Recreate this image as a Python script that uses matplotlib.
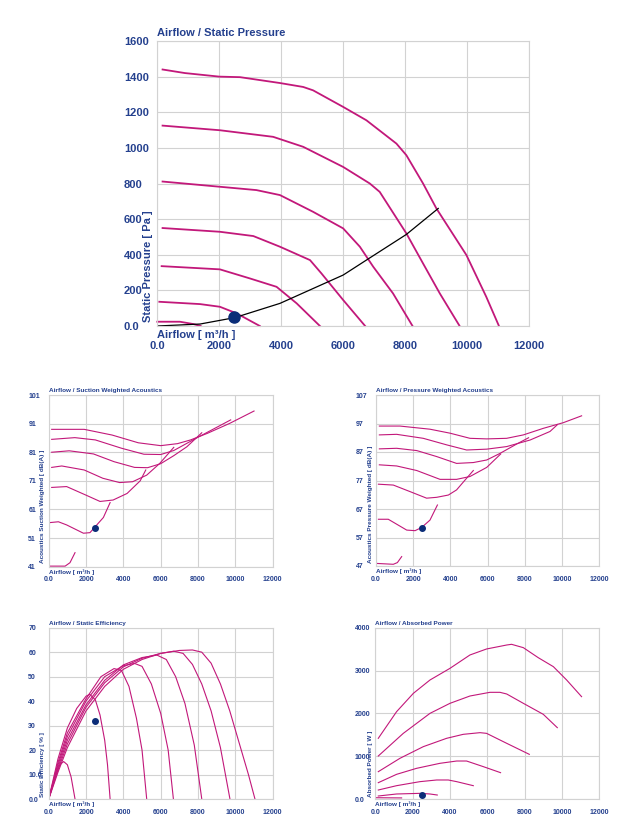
import matplotlib
matplotlib.use("Agg")
import matplotlib.pyplot as plt

plt.rcParams['font.family'] = ['Liberation Sans', 'DejaVu Sans']

BLUE = "#24408e"
LINE = "#c2187a"
GRID = "#d2d2d2"
DOT = "#0b2d78"

airflow_ticks = [0, 2000, 4000, 6000, 8000, 10000, 12000]
airflow_labels = ["0.0", "2000", "4000", "6000", "8000", "10000", "12000"]

# static pressure curves (m3/h, Pa)
pres_x = [
    [170, 890, 2000, 2670, 3960, 4710, 5030, 6000, 6750, 7720, 8040, 8580, 9010, 9980, 10620, 11030],
    [170, 2020, 3740, 4710, 6000, 6860, 7180, 8040, 8580, 9120, 9760],
    [170, 3200, 3960, 5030, 6000, 6540, 6970, 7610, 8240],
    [170, 2020, 3100, 3960, 4930, 5300, 6000, 6710],
    [140, 2020, 2990, 3850, 4500, 5250],
    [65, 1380, 2020, 2560, 3310],
    [0, 730, 1160, 1400],
]
pres_y = [
    [1440, 1420, 1400, 1397, 1364, 1342, 1323, 1230, 1155, 1024, 959, 800, 660, 398, 164, 0],
    [1125, 1099, 1062, 1006, 893, 800, 753, 520, 351, 183, 0],
    [811, 763, 735, 641, 548, 445, 333, 183, 0],
    [550, 529, 505, 445, 370, 295, 146, 0],
    [336, 318, 267, 220, 127, 0],
    [136, 123, 108, 71, 0],
    [24, 24, 11, 0],
]
system_x = [0, 1380, 2500, 3960, 6000, 6750, 8040, 9070]
system_y = [0, 11, 47, 127, 286, 370, 514, 660]
pres_ticks = [0, 200, 400, 600, 800, 1000, 1200, 1400, 1600]
pres_labels = ["0.0", "200", "400", "600", "800", "1000", "1200", "1400", "1600"]

# suction weighted acoustics (dB(A))
suc_x = [
    [160, 1900, 3400, 4800, 6000, 6900, 7600, 8500, 9700, 11000],
    [160, 1400, 2500, 3900, 5100, 6000, 6700, 7900, 9750],
    [160, 1100, 2400, 3500, 4600, 5300, 6000, 6700, 7400, 8200],
    [160, 700, 1900, 2900, 3800, 4500, 5250, 5950, 6700],
    [160, 960, 2000, 2750, 3450, 4200, 4900, 5200],
    [40, 520, 960, 1860, 2210, 2930, 3290],
    [40, 880, 1140, 1410],
]
suc_y = [
    [89.0, 89.0, 87.0, 84.3, 83.3, 84.0, 85.3, 87.6, 91.1, 95.4],
    [85.5, 86.1, 85.3, 82.4, 80.3, 80.2, 81.6, 85.9, 92.3],
    [81.0, 81.5, 80.4, 77.7, 75.7, 75.6, 77.0, 79.8, 82.9, 87.8],
    [75.7, 76.2, 74.8, 71.9, 70.4, 70.7, 73.0, 77.1, 82.7],
    [68.7, 69.0, 66.0, 63.8, 64.3, 66.6, 71.0, 74.8],
    [56.4, 56.7, 55.6, 52.7, 52.9, 58.2, 63.4],
    [41.2, 41.2, 42.4, 45.9],
]
suc_ticks = [41, 51, 61, 71, 81, 91, 101]

# pressure weighted acoustics (dB(A))
prw_x = [
    [180, 1290, 2900, 3980, 5050, 5950, 7020, 7920, 8990, 10070, 11050],
    [180, 1110, 2540, 3800, 4870, 5950, 7020, 8280, 9350, 9750],
    [180, 1110, 2190, 3260, 4330, 5230, 5950, 6660, 7560, 8200],
    [180, 1110, 2190, 3440, 4330, 5050, 5950, 6700],
    [130, 930, 1830, 2720, 3260, 3890, 4330, 4870, 5230],
    [130, 660, 1650, 2100, 2450, 2900, 3300],
    [40, 930, 1150, 1380],
]
prw_y = [
    [96.1, 96.1, 95.0, 93.6, 91.8, 91.6, 91.8, 93.0, 95.3, 97.3, 99.7],
    [93.0, 93.2, 91.8, 89.5, 87.7, 88.0, 88.9, 91.2, 94.2, 96.6],
    [88.1, 88.3, 87.5, 85.4, 83.0, 83.3, 84.2, 86.5, 89.8, 92.0],
    [82.5, 82.1, 80.5, 77.4, 77.4, 78.4, 81.6, 86.3],
    [75.7, 75.4, 73.1, 70.8, 71.1, 71.9, 73.7, 77.8, 80.5],
    [63.4, 63.4, 59.6, 59.4, 60.5, 63.1, 68.4],
    [47.9, 47.6, 48.2, 50.3],
]
prw_ticks = [47, 57, 67, 77, 87, 97, 107]

# static efficiency (%)
eff_x = [
    [0, 500, 1000, 2000, 3000, 4000, 5000, 6000, 7000, 7700, 8200, 8700, 9200, 9700, 10200, 10700, 11050],
    [0, 500, 1000, 2000, 3000, 4000, 5000, 6000, 6700, 7200, 7700, 8200, 8700, 9200, 9710],
    [0, 500, 1000, 2000, 3000, 4000, 5000, 5800, 6300, 6800, 7300, 7800, 8200],
    [0, 500, 1000, 2000, 3000, 4000, 4600, 5000, 5500, 6000, 6400, 6680],
    [0, 500, 1000, 2000, 2800, 3500, 3900, 4300, 4700, 5000, 5250],
    [0, 500, 1000, 1500, 2000, 2200, 2500, 2750, 3000, 3150, 3290],
    [0, 300, 600, 800, 1000, 1200, 1410],
]
eff_y = [
    [0, 11, 21, 36, 46, 53, 57, 59.5, 60.7, 60.9, 60.0, 55.5, 47, 36, 23, 10, 0],
    [0, 12, 22.5, 37.5, 47.5, 54, 57.5, 59.5, 60.4, 59.5, 55, 47, 36, 21, 0],
    [0, 13, 24, 38.5, 48.5, 54.8, 57.8, 58.8, 57, 50, 39, 22, 0],
    [0, 14, 25.5, 40, 50, 54.5, 55.4, 54.2, 47, 35, 20, 0],
    [0, 15, 27, 41, 50, 53.3, 52.5, 46, 33, 20, 0],
    [0, 16.5, 29, 37, 42, 42.8, 40.5, 34.3, 24, 14, 0],
    [0, 8, 14, 15.3, 14, 9, 0],
]
eff_ticks = [0, 10, 20, 30, 40, 50, 60, 70]
eff_labels = ["0.0", "10.0", "20", "30", "40", "50", "60", "70"]

# absorbed power (W)
pow_x = [
    [160, 1140, 2040, 2930, 4000, 5070, 5960, 7040, 7300, 7930, 8730, 9540, 10250, 11050],
    [160, 1500, 2930, 4000, 5070, 6140, 6680, 7040, 7930, 9000, 9750],
    [160, 1320, 2570, 3820, 4710, 5610, 5960, 7040, 8250],
    [160, 1140, 2210, 3460, 4360, 4890, 5790, 6710],
    [160, 1140, 2390, 3290, 3910, 4360, 5250],
    [160, 1140, 2390, 2930, 3320],
    [0, 1410],
]
pow_y = [
    [1417, 2039, 2468, 2779, 3051, 3363, 3503, 3596, 3612, 3534, 3300, 3090, 2779, 2390],
    [1004, 1533, 2000, 2234, 2405, 2491, 2491, 2452, 2234, 1977, 1666],
    [638, 950, 1222, 1417, 1510, 1549, 1533, 1300, 1043],
    [381, 576, 716, 833, 887, 887, 755, 615],
    [210, 311, 405, 444, 444, 405, 311],
    [70, 117, 132, 117, 93],
    [30, 25],
]
pow_ticks = [0, 1000, 2000, 3000, 4000]
pow_labels = ["0.0", "1000", "2000", "3000", "4000"]

# operating point
op_flow = 2480
op_pres = 52
op_suc = 54.4
op_prw = 60.5
op_eff = 31.9
op_pow = 93

W, H = 631, 832
fig = plt.figure(figsize=(W / 100, H / 100), dpi=100)


def make_axes(left, top, right, bottom):
    return fig.add_axes([left / W, 1 - bottom / H, (right - left) / W, (bottom - top) / H])


def style(ax, yticks, ylabels, title, ylabel, fs, ypad, xpad, title_off, xl_off, yl_dx, yl_dy, lfs):
    ax.set_xlim(0, 12000)
    ax.set_ylim(yticks[0], yticks[-1])
    ax.set_xticks(airflow_ticks)
    ax.set_xticklabels(airflow_labels, fontweight="bold")
    ax.set_yticks(yticks)
    ax.set_yticklabels(ylabels, ha="left", fontweight="bold")
    ax.tick_params(axis="y", length=0, labelsize=fs, labelcolor=BLUE, pad=ypad)
    ax.tick_params(axis="x", length=0, labelsize=fs, labelcolor=BLUE, pad=xpad)
    ax.grid(True, color=GRID, lw=0.8)
    ax.set_axisbelow(True)
    for s in ax.spines.values():
        s.set_color(GRID)
        s.set_linewidth(0.8)
    ax.annotate(title, (0, 1), xycoords="axes fraction", xytext=(0, title_off),
                textcoords="offset points", ha="left", va="center",
                fontsize=lfs, color=BLUE, fontweight="bold")
    ax.annotate("Airflow [ m³/h ]", (0, 0), xycoords="axes fraction", xytext=(0, -xl_off),
                textcoords="offset points", ha="left", va="center",
                fontsize=lfs, color=BLUE, fontweight="bold")
    ax.annotate(ylabel, (0, 0), xycoords="axes fraction", xytext=(-yl_dx, yl_dy),
                textcoords="offset points", ha="center", va="bottom", rotation=90,
                fontsize=lfs, color=BLUE, fontweight="bold")


# top: airflow / static pressure
ax = make_axes(157.3, 41, 529, 326)
for xs, ys in zip(pres_x, pres_y):
    ax.plot(xs, ys, color=LINE, lw=1.3, clip_on=False)
ax.plot(system_x, system_y, color="black", lw=0.9)
ax.plot([op_flow], [op_pres], "o", color=DOT, ms=8, clip_on=False, zorder=5)
style(ax, pres_ticks, pres_labels, "Airflow / Static Pressure", "Static Pressure [ Pa ]",
      fs=8, ypad=24, xpad=11, title_off=5.5, xl_off=6.5, yl_dx=6.5, yl_dy=3, lfs=8)

small = dict(fs=5, ypad=14.7, xpad=7, title_off=3.2, xl_off=3.6, lfs=4.6)

# suction weighted acoustics
ax = make_axes(48.7, 395, 272.7, 566.7)
for xs, ys in zip(suc_x, suc_y):
    ax.plot(xs, ys, color=LINE, lw=0.8)
ax.plot([op_flow], [op_suc], "o", color=DOT, ms=4, zorder=5)
style(ax, suc_ticks, [str(t) for t in suc_ticks], "Airflow / Suction Weighted Acoustics",
      "Acoustics Suction Weighted [ dB(A) ]", yl_dx=4.3, yl_dy=2.5, **small)

# pressure weighted acoustics
ax = make_axes(376, 395, 599.3, 566)
for xs, ys in zip(prw_x, prw_y):
    ax.plot(xs, ys, color=LINE, lw=0.8)
ax.plot([op_flow], [op_prw], "o", color=DOT, ms=4, zorder=5)
style(ax, prw_ticks, [str(t) for t in prw_ticks], "Airflow / Pressure Weighted Acoustics",
      "Acoustics Pressure Weighted [ dB(A) ]", yl_dx=3.8, yl_dy=2.5, **small)

# static efficiency
ax = make_axes(48.7, 627.7, 272.7, 799)
for xs, ys in zip(eff_x, eff_y):
    ax.plot(xs, ys, color=LINE, lw=0.8)
ax.plot([op_flow], [op_eff], "o", color=DOT, ms=4, zorder=5)
style(ax, eff_ticks, eff_labels, "Airflow / Static Efficiency",
      "Static Efficiency [ % ]", yl_dx=4.3, yl_dy=1.5, **small)

# absorbed power
ax = make_axes(375.3, 627.7, 599.3, 799)
for xs, ys in zip(pow_x, pow_y):
    ax.plot(xs, ys, color=LINE, lw=0.8)
ax.plot([op_flow], [op_pow], "o", color=DOT, ms=4, zorder=5)
style(ax, pow_ticks, pow_labels, "Airflow / Absorbed Power",
      "Absorbed Power [ W ]", yl_dx=3.8, yl_dy=1.5, **small)

fig.savefig("out.png", dpi=100, facecolor="white")
